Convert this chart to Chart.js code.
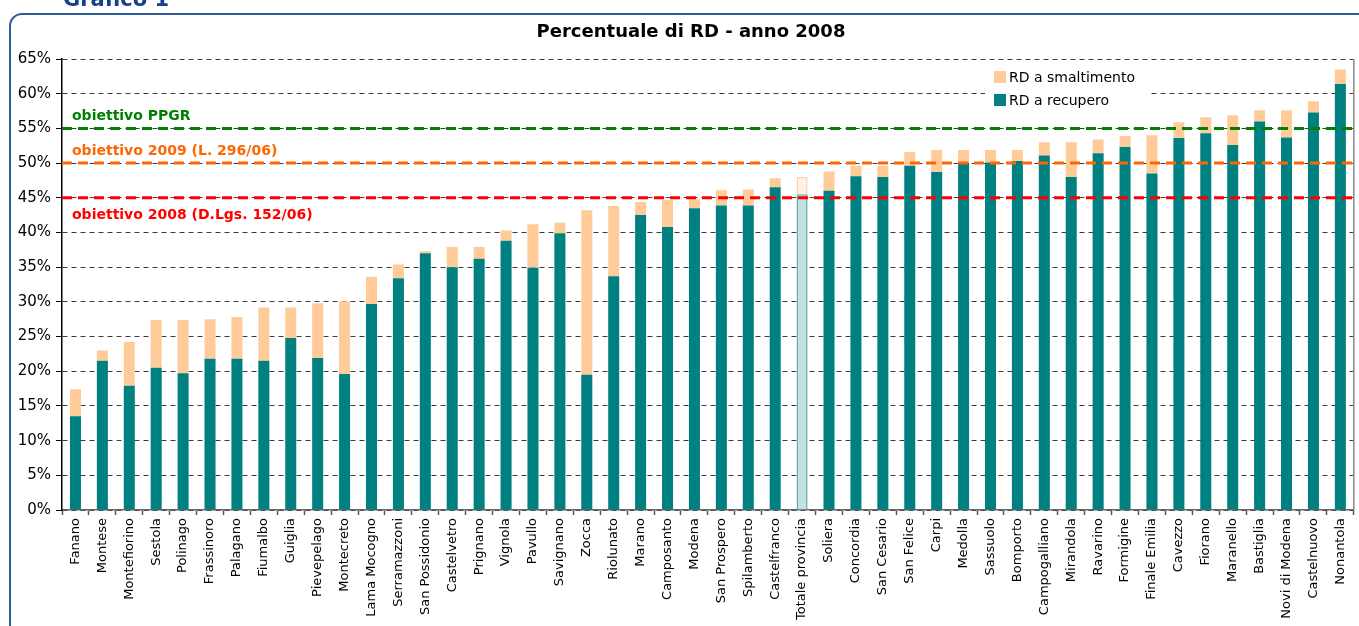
<!DOCTYPE html>
<html>
<head>
<meta charset="utf-8">
<script src="https://cdn.jsdelivr.net/npm/chart.js@4.4.0/dist/chart.umd.min.js"></script>
<style>
  body { margin: 0; background: #fff; }
</style>
</head>
<body>
<canvas id="chartRD" width="1359" height="626"></canvas>
<script>
// Comuni, sorted by RD percentage
const categories = ["Fanano", "Montese", "Montefiorino", "Sestola", "Polinago", "Frassinoro", "Palagano",
  "Fiumalbo", "Guiglia", "Pievepelago", "Montecreto", "Lama Mocogno", "Serramazzoni", "San Possidonio",
  "Castelvetro", "Prignano", "Vignola", "Pavullo", "Savignano", "Zocca", "Riolunato", "Marano",
  "Camposanto", "Modena", "San Prospero", "Spilamberto", "Castelfranco", "Totale provincia", "Soliera",
  "Concordia", "San Cesario", "San Felice", "Carpi", "Medolla", "Sassuolo", "Bomporto", "Campogalliano",
  "Mirandola", "Ravarino", "Formigine", "Finale Emilia", "Cavezzo", "Fiorano", "Maranello", "Bastiglia",
  "Novi di Modena", "Castelnuovo", "Nonantola"];

// % RD a recupero
const recupero = [13.5, 21.5, 17.9, 20.5, 19.7, 21.8, 21.8, 21.5, 24.8, 21.9, 19.6, 29.7, 33.4, 37.0,
  35.0, 36.2, 38.8, 34.9, 39.9, 19.5, 33.7, 42.5, 40.8, 43.5, 43.9, 43.9, 46.5, 45.5, 46.0, 48.1, 48.0,
  49.6, 48.7, 50.1, 50.1, 50.3, 51.1, 48.0, 51.4, 52.3, 48.5, 53.6, 54.3, 52.6, 56.0, 53.7, 57.3, 61.4];

// % RD a smaltimento (stacked on top)
const smaltimento = [3.9, 1.5, 6.3, 6.9, 7.7, 5.7, 6.0, 7.7, 4.4, 7.9, 10.5, 3.9, 2.0, 0.3, 2.9, 1.7,
  1.5, 6.3, 1.5, 23.7, 10.1, 1.9, 3.9, 1.3, 2.2, 2.3, 1.3, 2.5, 2.8, 1.5, 1.6, 2.0, 3.2, 1.8, 1.8, 1.6,
  1.9, 5.0, 2.0, 1.6, 5.5, 2.3, 2.3, 4.3, 1.6, 3.9, 1.6, 2.1];

// Target lines
const targetValues = [55, 50, 45];
const targetLabels = ["obiettivo PPGR", "obiettivo 2009 (L. 296/06)", "obiettivo 2008 (D.Lgs. 152/06)"];

const seriesLabels = ["RD a recupero", "RD a smaltimento"];
const TOTAL_LABEL = "Totale provincia";
const TITLE = "Percentuale di RD - anno 2008";

// Colors
const COLOR_RECUPERO = "#008080";
const COLOR_SMALTIMENTO = "#ffcc99";
const COLOR_RECUPERO_TOT = "#c2e2e2";
const COLOR_SMALTIMENTO_TOT = "#fff1e6";
const TARGET_COLORS = ["#008000", "#ff6600", "#ff0000"];

const FONT = '"DejaVu Sans", Verdana, sans-serif';

const totIndex = categories.indexOf(TOTAL_LABEL);

// Page frame, caption and title
const framePlugin = {
  id: "frame",
  beforeDraw(chart) {
    const ctx = chart.ctx;
    ctx.save();
    ctx.fillStyle = "#fff";
    ctx.fillRect(0, 0, chart.width, chart.height);
    ctx.strokeStyle = "#2f5b9a";
    ctx.lineWidth = 2;
    ctx.beginPath();
    ctx.roundRect(10, 14, chart.width + 20, chart.height + 20, 12);
    ctx.stroke();
    ctx.fillStyle = "#173f8a";
    ctx.font = "bold 21px " + FONT;
    ctx.textBaseline = "alphabetic";
    ctx.fillText("Grafico 1", 63, 6);
    ctx.fillStyle = "#000";
    ctx.font = "bold 18px " + FONT;
    ctx.textAlign = "center";
    ctx.fillText(TITLE, 691, 37);
    ctx.restore();
  }
};

// Target lines with their captions, plus right border and legend
const targetsPlugin = {
  id: "targets",
  afterDatasetsDraw(chart) {
    const {ctx, chartArea, scales: {y}} = chart;
    ctx.save();

    ctx.strokeStyle = "#888";
    ctx.lineWidth = 1.5;
    ctx.beginPath();
    ctx.moveTo(chartArea.right, chartArea.top);
    ctx.lineTo(chartArea.right, chartArea.bottom);
    ctx.stroke();

    for (let i = 0; i < targetValues.length; i++) {
      const py = y.getPixelForValue(targetValues[i]);
      ctx.strokeStyle = TARGET_COLORS[i];
      ctx.lineWidth = 3;
      ctx.setLineDash([10, 6]);
      ctx.beginPath();
      ctx.moveTo(chartArea.left, py);
      ctx.lineTo(chartArea.right, py);
      ctx.stroke();
      ctx.setLineDash([]);
      ctx.fillStyle = TARGET_COLORS[i];
      ctx.font = "bold 14px " + FONT;
      ctx.textBaseline = "alphabetic";
      // the last caption sits under its line
      const ty = i == targetValues.length - 1 ? py + 21 : py - 8;
      ctx.fillText(targetLabels[i], chartArea.left + 10, ty);
    }

    // legend
    const lx = 985, ly = 63;
    ctx.fillStyle = "#fff";
    ctx.fillRect(lx, ly, 163, 47);
    const items = [
      {label: seriesLabels[1], color: COLOR_SMALTIMENTO},
      {label: seriesLabels[0], color: COLOR_RECUPERO}
    ];
    ctx.font = "14px " + FONT;
    ctx.textBaseline = "middle";
    items.forEach((it, k) => {
      const cy = ly + 14 + k * 23;
      ctx.fillStyle = it.color;
      ctx.fillRect(lx + 9, cy - 6, 12, 12);
      ctx.fillStyle = "#000";
      ctx.fillText(it.label, lx + 24, cy + 1);
    });
    ctx.restore();
  }
};

new Chart("chartRD", {
  type: "bar",
  data: {
    labels: categories,
    datasets: [{
      label: seriesLabels[0],
      data: recupero,
      backgroundColor: categories.map((c, i) => i == totIndex ? COLOR_RECUPERO_TOT : COLOR_RECUPERO),
      borderColor: categories.map((c, i) => i == totIndex ? "#5fa9a9" : COLOR_RECUPERO),
      borderWidth: categories.map((c, i) => i == totIndex ? 1.5 : 0),
      barPercentage: 0.41,
      categoryPercentage: 1.0
    },
    {
      label: seriesLabels[1],
      data: smaltimento,
      backgroundColor: categories.map((c, i) => i == totIndex ? COLOR_SMALTIMENTO_TOT : COLOR_SMALTIMENTO),
      borderColor: categories.map((c, i) => i == totIndex ? "#ffd2a8" : COLOR_SMALTIMENTO),
      borderWidth: categories.map((c, i) => i == totIndex ? 1.5 : 0),
      barPercentage: 0.41,
      categoryPercentage: 1.0
    }]
  },
  options: {
    responsive: false,
    animation: false,
    layout: {
      padding: {top: 59, left: 8, right: 4, bottom: 0}
    },
    plugins: {
      legend: {display: false},
      tooltip: {enabled: false},
      title: {display: false}
    },
    scales: {
      x: {
        stacked: true,
        grid: {
          drawOnChartArea: false,
          tickLength: 5,
          tickColor: "#555",
          tickWidth: 1.5
        },
        border: {color: "#666", width: 1.5},
        ticks: {
          autoSkip: false,
          maxRotation: 90,
          minRotation: 90,
          padding: 3,
          color: "#000",
          font: {family: FONT, size: 13}
        },
        afterFit(scale) { scale.height = 116; }
      },
      y: {
        stacked: true,
        min: 0,
        max: 65,
        grid: {
          color: "#3c3c3c",
          lineWidth: 1,
          tickLength: 6,
          tickColor: "#000",
          tickBorderDash: []
        },
        border: {color: "#000", width: 1.5, dash: [5, 4]},
        ticks: {
          stepSize: 5,
          padding: 5,
          color: "#000",
          font: {family: FONT, size: 15},
          callback: v => v + "%"
        },
        afterFit(scale) { scale.width = 54; }
      }
    }
  },
  plugins: [framePlugin, targetsPlugin]
});
</script>
</body>
</html>
